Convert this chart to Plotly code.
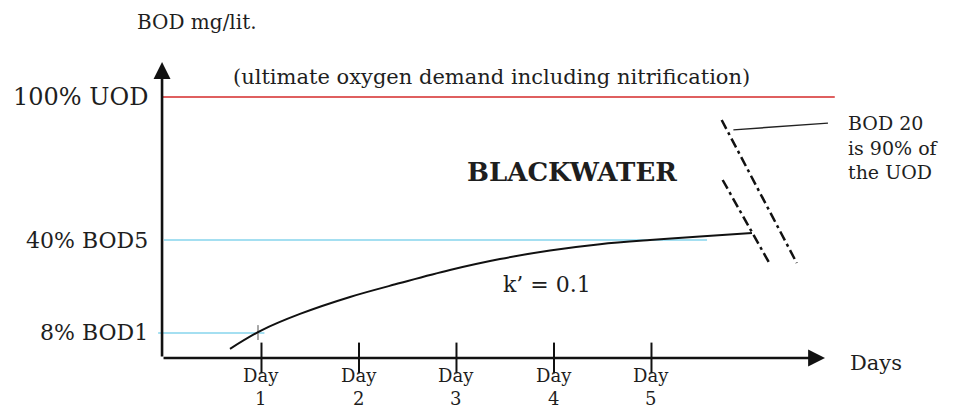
import plotly.graph_objects as go

# ---- data (y in drawn % of UOD, x in days) ----
days = [1, 2, 3, 4, 5]
day_labels = ["Day<br>1", "Day<br>2", "Day<br>3", "Day<br>4", "Day<br>5"]
curve_days = [0.677, 1.005, 1.395, 1.908, 2.421, 2.933, 3.446, 3.959, 4.472, 4.985, 5.497, 6.031]
curve_bod = [3.5, 10.7, 16.9, 23.4, 28.7, 33.7, 37.9, 41.2, 43.6, 45.2, 46.5, 47.9]

level_values = [100, 45.2, 9.6]
level_labels = ["100% UOD", "40% BOD5", "8% BOD1"]
level_starts = [-0.02, 0.0, -0.06]
level_ends = [6.88, 5.57, 1.03]
level_colors = ["#d42a2a", "#86d4ec", "#86d4ec"]
level_font_sizes = [24, 22, 22]

break1_x = [5.72, 6.49]
break1_y = [91.2, 36.4]
break2_x = [5.73, 6.22]
break2_y = [68.2, 35.6]
leader_x = [5.84, 6.81]
leader_y = [87.4, 90.0]
marker1_x = [0.964, 0.964]
marker1_y = [12.6, 6.9]

axis_origin = [-0.02, 0]
x_axis_end = 6.78
y_axis_end = 113.4

note_lines = ["BOD 20", "is 90% of", "the UOD"]

FONT = "DejaVu Serif"
TXT = "#1e1e1e"

fig = go.Figure()

# horizontal reference levels
for v, x0, x1, c in zip(level_values, level_starts, level_ends, level_colors):
    fig.add_trace(go.Scatter(x=[x0, x1], y=[v, v], mode="lines",
                             line=dict(color=c, width=1.6), hoverinfo="skip"))

# small grey mark at day 1
fig.add_trace(go.Scatter(x=marker1_x, y=marker1_y, mode="lines",
                         line=dict(color="#a8a8a8", width=2), hoverinfo="skip"))

# BOD curve
fig.add_trace(go.Scatter(x=curve_days, y=curve_bod, mode="lines",
                         line=dict(color="#111111", width=2, shape="spline", smoothing=1.0),
                         hoverinfo="skip"))

# axis break lines and leader
for bx, by in [(break1_x, break1_y), (break2_x, break2_y)]:
    fig.add_trace(go.Scatter(x=bx, y=by, mode="lines",
                             line=dict(color="#111111", width=2.5, dash="10px,4px,3px,4px"),
                             hoverinfo="skip"))
fig.add_trace(go.Scatter(x=leader_x, y=leader_y, mode="lines",
                         line=dict(color="#222222", width=1.4), hoverinfo="skip"))

# day tick marks
fig.add_trace(go.Scatter(x=days, y=[0] * len(days), mode="markers",
                         marker=dict(symbol="line-ns", size=22,
                                     line=dict(color="#111111", width=2)),
                         hoverinfo="skip"))

ann = []
# axes with arrows
ann.append(dict(x=x_axis_end, y=axis_origin[1], ax=axis_origin[0], ay=axis_origin[1],
                xref="x", yref="y", axref="x", ayref="y", text="", showarrow=True,
                arrowhead=2, arrowsize=1.3, arrowwidth=2.6, arrowcolor="#111111"))
ann.append(dict(x=axis_origin[0], y=y_axis_end, ax=axis_origin[0], ay=axis_origin[1],
                xref="x", yref="y", axref="x", ayref="y", text="", showarrow=True,
                arrowhead=2, arrowsize=1.3, arrowwidth=2.6, arrowcolor="#111111"))

# level labels
for v, lab, fs in zip(level_values, level_labels, level_font_sizes):
    ann.append(dict(x=-0.144, y=v, xref="x", yref="y", text=lab, showarrow=False,
                    xanchor="right", yanchor="middle",
                    font=dict(family=FONT, size=fs, color=TXT)))

# day labels
for d, lab in zip(days, day_labels):
    ann.append(dict(x=d, y=-11.2, xref="x", yref="y", text=lab, showarrow=False,
                    xanchor="center", yanchor="middle", align="center",
                    font=dict(family=FONT, size=18, color=TXT)))

ann.append(dict(x=7.30, y=-1.9, xref="x", yref="y", text="Days", showarrow=False,
                xanchor="center", yanchor="middle",
                font=dict(family=FONT, size=21, color=TXT)))
ann.append(dict(x=0.338, y=128.7, xref="x", yref="y", text="BOD mg/lit.", showarrow=False,
                xanchor="center", yanchor="middle",
                font=dict(family=FONT, size=20, color=TXT)))
ann.append(dict(x=3.364, y=107.7, xref="x", yref="y",
                text="(ultimate oxygen demand including nitrification)", showarrow=False,
                xanchor="center", yanchor="middle",
                font=dict(family=FONT, size=21, color=TXT)))
ann.append(dict(x=4.185, y=71.3, xref="x", yref="y", text="<b>BLACKWATER</b>",
                showarrow=False, xanchor="center", yanchor="middle",
                font=dict(family=FONT, size=26, color=TXT)))
ann.append(dict(x=3.93, y=27.97, xref="x", yref="y", text="k\u2019 = 0.1",
                showarrow=False, xanchor="center", yanchor="middle",
                font=dict(family=FONT, size=22, color=TXT)))
ann.append(dict(x=7.0, y=80.8, xref="x", yref="y", text="<br>".join(note_lines),
                showarrow=False, xanchor="left", yanchor="middle", align="left",
                font=dict(family=FONT, size=19, color=TXT)))

fig.update_layout(
    width=970, height=411,
    margin=dict(l=0, r=0, t=0, b=0),
    paper_bgcolor="white", plot_bgcolor="white",
    showlegend=False,
    xaxis=dict(range=[-1.682, 8.267], visible=False, fixedrange=True),
    yaxis=dict(range=[-20.31, 137.16], visible=False, fixedrange=True),
    annotations=ann,
)

fig.write_html(
    "out.html",
    config={"displayModeBar": False},
    post_script="document.body.style.margin='0';document.body.style.overflow='hidden';",
)
